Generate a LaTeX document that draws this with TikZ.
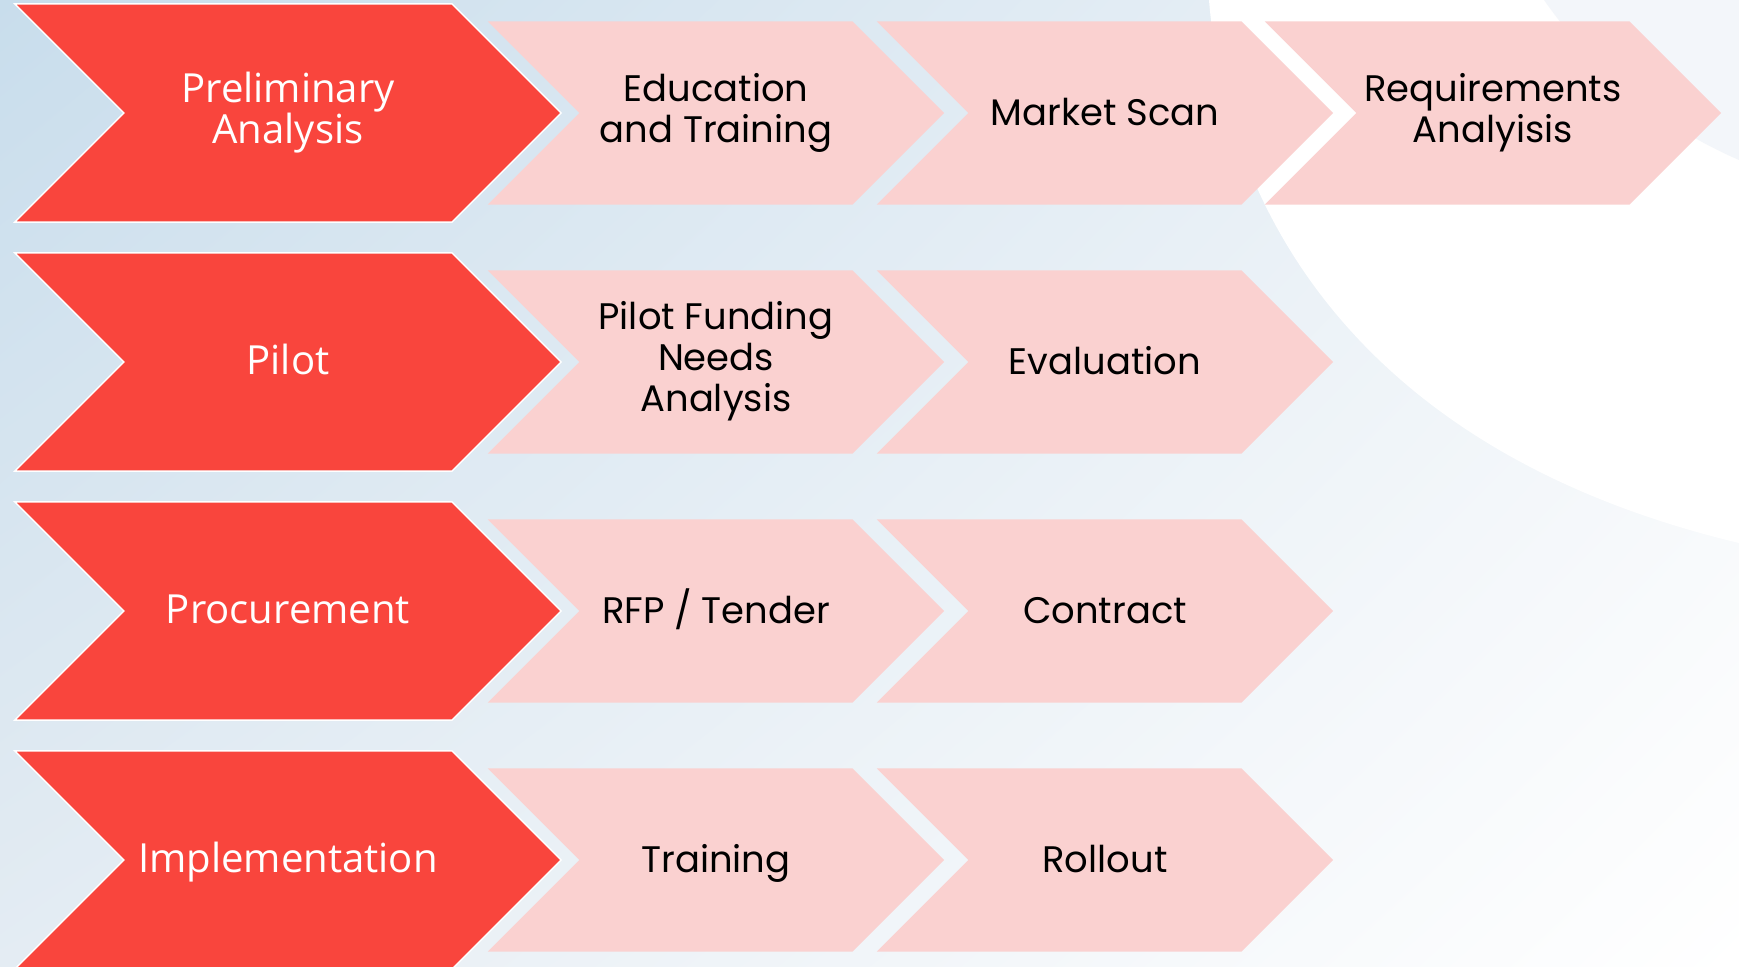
\documentclass[tikz,border=0pt]{standalone}
\usepackage{fontspec}
\setmainfont{Poppins}
\newfontfamily\phasefont{Open Sans}
\usetikzlibrary{shapes.symbols,shadings}

\definecolor{phasered}{HTML}{F9453D}
\definecolor{taskpink}{HTML}{FAD1D0}
\definecolor{bgblue}{HTML}{C8DDEC}
\definecolor{bgleft}{HTML}{E4ECF3}
\definecolor{bgright}{HTML}{F0F4F8}
\definecolor{bgpale}{HTML}{F3F6FA}

% 10.2pt ueber, 3pt unter der Grundlinie
\newcommand\chevstrut{\rule[-3pt]{0pt}{13.2pt}}

\tikzset{
  chevron/.style={signal, signal from=west, signal to=east,
    signal pointer angle=90, align=center, inner sep=0pt,
    execute at begin node=\chevstrut, execute at end node=\chevstrut},
  phase/.style={chevron, fill=phasered, draw=white, line width=0.015cm,
    minimum width=5.46cm, minimum height=2.18cm, text=white,
    font=\phasefont\fontsize{11.4}{11.8}\selectfont},
  task/.style={chevron, fill=taskpink, minimum width=4.56cm,
    minimum height=1.83cm, text=black,
    font=\fontsize{10.5}{11.7}\selectfont}
}

\begin{document}
\begin{tikzpicture}[x=0.01cm,y=-0.01cm]
\useasboundingbox (0,0) rectangle (1739,966);
\clip (0,0) rectangle (1739,966);

% Hintergrund
\shade[upper left=bgblue, upper right=bgright, lower left=bgleft,
  lower right=white] (0,0) rectangle (1739,966);
\fill[white] (1209,0) .. controls (1225,200) and (1350,450) .. (1739,543)
  -- (1739,0) -- cycle;
\fill[bgpale] (1544,0) .. controls (1600,80) and (1670,130) .. (1739,160)
  -- (1739,0) -- cycle;

% Zeile 1
\node[phase] (prelim) at (288,113) {Preliminary\\Analysis};
\node[task] (education) at (716,113) {Education\\and Training};
\node[task] (market) at (1105,113) {Market Scan};
\node[task] (requirements) at (1493,113) {Requirements\\Analyisis};

% Zeile 2
\node[phase] (pilot) at (288,362) {Pilot};
\node[task] (funding) at (716,362) {Pilot Funding\\Needs\\Analysis};
\node[task] (evaluation) at (1105,362) {Evaluation};

% Zeile 3
\node[phase] (procurement) at (288,611) {Procurement};
\node[task] (tender) at (716,611) {RFP / Tender};
\node[task] (contract) at (1105,611) {Contract};

% Zeile 4
\node[phase] (implementation) at (288,860) {Implementation};
\node[task] (training) at (716,860) {Training};
\node[task] (rollout) at (1105,860) {Rollout};
\end{tikzpicture}
\end{document}
